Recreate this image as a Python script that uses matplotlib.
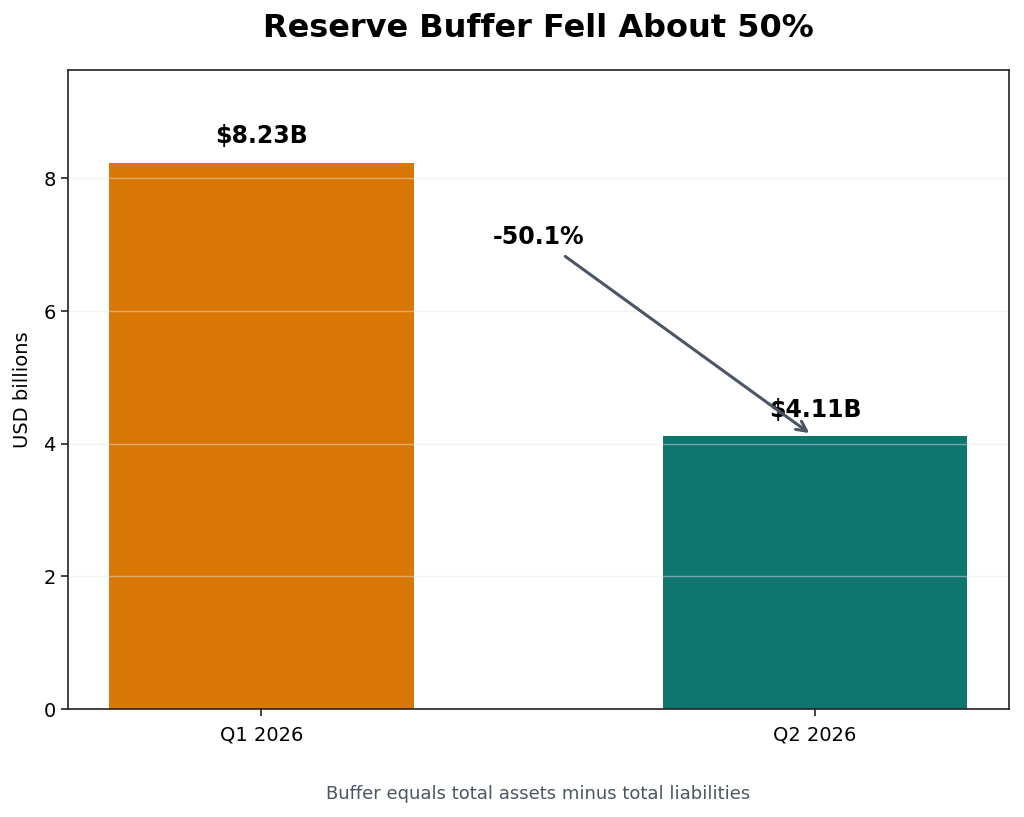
import matplotlib
matplotlib.use("Agg")
import matplotlib.pyplot as plt

# data
quarters = ["Q1 2026", "Q2 2026"]
buffer_bn = [8.23, 4.11]
bar_colors = ["#d97706", "#0f766e"]
change_pct = (buffer_bn[1] - buffer_bn[0]) / buffer_bn[0] * 100

fig, ax = plt.subplots(figsize=(10.24, 8.17), dpi=100)
fig.subplots_adjust(left=0.066, right=0.985, top=0.914, bottom=0.132)

x = list(range(len(quarters)))
ax.bar(x, buffer_bn, width=0.55, color=bar_colors)

# value labels
for xi, v in zip(x, buffer_bn):
    ax.text(xi, v + 0.22, f"${v:.2f}B", ha="center", va="bottom",
            fontsize=17, fontweight="bold")

# change arrow
ax.annotate(f"{change_pct:.1f}%", xy=(0.99, buffer_bn[1] + 0.05),
            xytext=(0.5, 7.12), ha="center", va="center",
            fontsize=17, fontweight="bold",
            arrowprops=dict(arrowstyle="->", color="#4b5563", lw=2.2,
                            shrinkA=6, shrinkB=0, mutation_scale=18))

ax.set_xticks(x)
ax.set_xticklabels(quarters, fontsize=14)
ax.tick_params(axis="both", labelsize=14, width=1.2, length=5, color="#222222")
ax.tick_params(axis="x", pad=7)
for s in ax.spines.values():
    s.set_linewidth(1.2)
    s.set_color("#222222")
ax.set_xlim(-0.35, 1.35)
ax.set_ylim(0, max(buffer_bn) * 1.17)
ax.set_ylabel("USD billions", fontsize=14, labelpad=8)
ax.grid(axis="y", color="#e5e7eb", linewidth=1, alpha=0.45)

ax.set_title("Reserve Buffer Fell About 50%", fontsize=23, fontweight="bold", pad=24)
fig.text(0.526, 0.022, "Buffer equals total assets minus total liabilities",
         ha="center", fontsize=13, color="#4b5563")

plt.savefig("out.png")
